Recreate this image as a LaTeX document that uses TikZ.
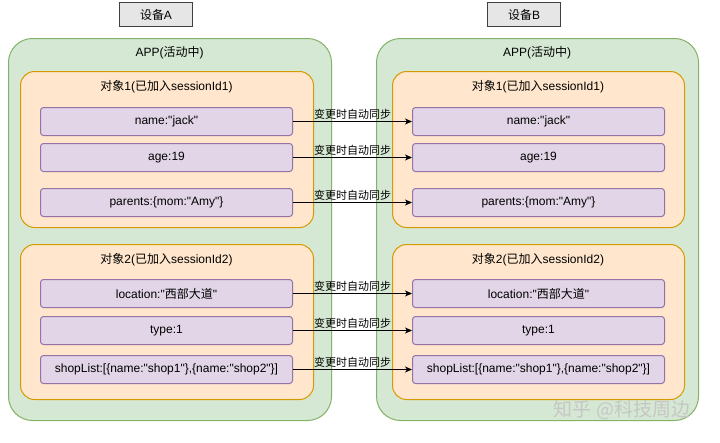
\documentclass[tikz,border=0pt]{standalone}
\usepackage{fontspec}
\setmainfont{Liberation Sans}[Ligatures=TeXOff]
\newfontfamily\cjk{Noto Sans CJK SC}
\usetikzlibrary{arrows.meta}

\definecolor{appfill}{HTML}{D5E8D4}
\definecolor{appline}{HTML}{82B366}
\definecolor{objfill}{HTML}{FFE6CC}
\definecolor{objline}{HTML}{D79B00}
\definecolor{fieldfill}{HTML}{E1D5E7}
\definecolor{fieldline}{HTML}{9673A6}
\definecolor{devfill}{HTML}{E6E6E6}
\definecolor{devline}{HTML}{404040}

\tikzset{
  box/.style={inner sep=0pt, anchor=north west, line width=1pt},
  devbox/.style={box, draw=devline, fill=devfill, minimum width=73pt, minimum height=24pt},
  appbox/.style={box, draw=appline, fill=appfill, rounded corners=24pt, minimum height=382pt},
  objbox/.style={box, draw=objline, fill=objfill, rounded corners=14pt},
  fieldbox/.style={box, draw=fieldline, fill=fieldfill, rounded corners=3pt, minimum width=252pt, minimum height=28pt},
  title/.style={inner sep=0pt},
  syncarrow/.style={line width=0.8pt, -{Stealth[length=7pt,width=6pt,inset=2pt]}},
  synclabel/.style={above, inner sep=1.5pt, font=\cjk\fontsize{11}{13}\selectfont}
}

\begin{document}
\begin{tikzpicture}[x=1pt, y=-1pt, font=\fontsize{12}{14}\selectfont]
  \useasboundingbox (0,0) rectangle (720,442);

  % Devices
  \node[devbox] (devA) at (119,2) {{\cjk 设备}A};
  \node[devbox] (devB) at (487,2) {{\cjk 设备}B};

  % App containers
  \node[appbox, minimum width=323pt] (appA) at (8,38) {};
  \node[appbox, minimum width=322pt] (appB) at (376,38) {};
  \node[title] (appAtitle) at (169.5,53) {APP({\cjk 活动中})};
  \node[title] (appBtitle) at (537,53) {APP({\cjk 活动中})};

  % Object 1
  \node[objbox, minimum width=293pt, minimum height=156pt] (objA1) at (20,71) {};
  \node[objbox, minimum width=292pt, minimum height=156pt] (objB1) at (392,71) {};
  \node[title] (objA1title) at (166.5,87) {{\cjk 对象}1({\cjk 已加入}sessionId1)};
  \node[title] (objB1title) at (538,87) {{\cjk 对象}1({\cjk 已加入}sessionId1)};

  % Object 2
  \node[objbox, minimum width=293pt, minimum height=155pt] (objA2) at (20,244) {};
  \node[objbox, minimum width=292pt, minimum height=155pt] (objB2) at (392,244) {};
  \node[title] (objA2title) at (166.5,260) {{\cjk 对象}2({\cjk 已加入}sessionId2)};
  \node[title] (objB2title) at (538,260) {{\cjk 对象}2({\cjk 已加入}sessionId2)};

  % Fields of device A
  \node[fieldbox] (nameA) at (40,107) {name:"jack"};
  \node[fieldbox] (ageA) at (40,143) {age:19};
  \node[fieldbox] (parentsA) at (40,188) {parents:\{mom:"Amy"\}};
  \node[fieldbox] (locationA) at (40,279) {location:"{\cjk 西部大道}"};
  \node[fieldbox] (typeA) at (40,316) {type:1};
  \node[fieldbox] (shopA) at (40,355) {shopList:[\{name:"shop1"\},\{name:"shop2"\}]};

  % Fields of device B
  \node[fieldbox] (nameB) at (412,107) {name:"jack"};
  \node[fieldbox] (ageB) at (412,143) {age:19};
  \node[fieldbox] (parentsB) at (412,188) {parents:\{mom:"Amy"\}};
  \node[fieldbox] (locationB) at (412,279) {location:"{\cjk 西部大道}"};
  \node[fieldbox] (typeB) at (412,316) {type:1};
  \node[fieldbox] (shopB) at (412,355) {shopList:[\{name:"shop1"\},\{name:"shop2"\}]};

  % Sync arrows
  \foreach \f in {name,age,parents,location,type,shop}
    \draw[syncarrow] (\f A.east) -- node[synclabel] {变更时自动同步} (\f B.west);

  % Watermark
  \node[text=gray!45, font=\cjk\fontsize{19}{22}\selectfont] (mark) at (622,410) {知乎 @科技周边};
\end{tikzpicture}
\end{document}
